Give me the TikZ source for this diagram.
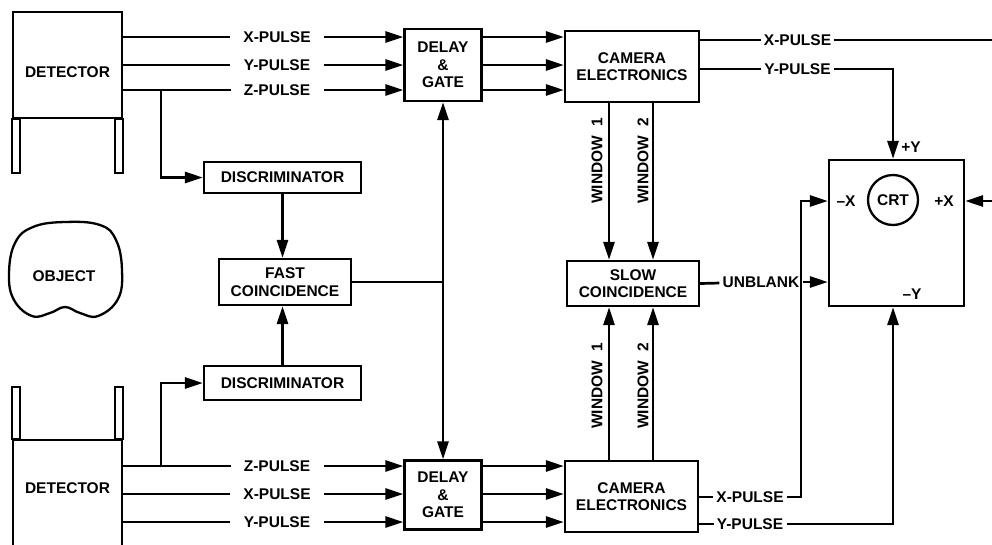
\documentclass[tikz,border=0pt]{standalone}
\usepackage{fontspec}
\setmainfont{Liberation Sans}
\usetikzlibrary{arrows.meta,positioning}

\begin{document}
\begin{tikzpicture}[
  x=1pt, y=-1pt,
  line width=2.7pt,
  every node/.style={font=\fontsize{15.5}{17.5}\selectfont\bfseries},
  block/.style={draw, rectangle, align=center, inner sep=0pt, line width=2.3pt},
  leg/.style={line width=1.8pt},
  pulse/.style={inner xsep=12pt, inner ysep=0pt},
  tag/.style={inner xsep=2pt, inner ysep=0pt},
  arrow/.style={-{Triangle[length=18pt,width=11pt]}}
]
\useasboundingbox (0,0) rectangle (992,544);
\clip (0,0) rectangle (992,544);

% detectors and object
\node[block, minimum width=109pt, minimum height=106pt, text height=25pt] (det1) at (67.5,65) {DETECTOR};
\node[block, minimum width=109pt, minimum height=120pt, text depth=24pt] (det2) at (67.5,500) {DETECTOR};
\draw[leg] (det1.south west) rectangle ++(8,54);
\draw[leg] (det1.south east) rectangle ++(-8,54);
\draw[leg] (det2.north west) rectangle ++(8,-52);
\draw[leg] (det2.north east) rectangle ++(-8,-52);

\node (obj) at (64,276) {OBJECT};
\draw[line width=2.3pt] plot[smooth cycle, tension=0.7] coordinates {(65,222) (100,225) (116,240) (122,270) (118,299) (98,316) (80,313) (65,307) (50,313) (32,316) (14,300) (9,274) (15,243) (33,227)};

% processing blocks
\node[block, minimum width=157pt, minimum height=31pt] (disc1) at (282.5,177.5) {DISCRIMINATOR};
\node[block, minimum width=157pt, minimum height=34pt] (disc2) at (282.5,383) {DISCRIMINATOR};
\node[block, minimum width=132pt, minimum height=46pt] (fast) at (285,282) {FAST\\COINCIDENCE};

\node[block, minimum width=77pt, minimum height=72pt] (dg1) at (443,65) {DELAY\\\&\\GATE};
\node[block, minimum width=77pt, minimum height=69pt] (dg2) at (443,495) {DELAY\\\&\\GATE};
\node[block, minimum width=134pt, minimum height=71pt] (cam1) at (632,66.5) {CAMERA\\ELECTRONICS};
\node[block, minimum width=133pt, minimum height=71pt] (cam2) at (631.5,496.5) {CAMERA\\ELECTRONICS};
\node[block, minimum width=132pt, minimum height=45pt] (slow) at (633,283.5) {SLOW\\COINCIDENCE};

% display
\node[block, minimum width=135pt, minimum height=146pt] (crtbox) at (896.5,233) {};
\node[draw, circle, minimum size=50pt, inner sep=0pt, line width=2.3pt] (crt) at (893,200) {CRT};
\node (mx) at (846,201) {\textendash X};
\node (px) at (944,201) {+X};
\node (my) at (912,294) {\textendash Y};
\node (py) at (911,147) {+Y};

% pulse labels
\node[pulse] (xa) at (277,37) {X-PULSE};
\node[pulse] (ya) at (277,65) {Y-PULSE};
\node[pulse] (za) at (277,90) {Z-PULSE};
\node[pulse] (zb) at (277,466) {Z-PULSE};
\node[pulse] (xb) at (277,494) {X-PULSE};
\node[pulse] (yb) at (277,522) {Y-PULSE};
\node[tag] (xc) at (797.5,40) {X-PULSE};
\node[tag] (yc) at (797.5,69) {Y-PULSE};
\node[tag] (xd) at (750,497) {X-PULSE};
\node[tag] (yd) at (750,524) {Y-PULSE};
\node[tag] (unb) at (761,282) {UNBLANK};

\node[rotate=90] (w1a) at (597,161) {WINDOW\hspace{9pt}1};
\node[rotate=90] (w2a) at (643,161) {WINDOW\hspace{9pt}2};
\node[rotate=90] (w1b) at (597,386) {WINDOW\hspace{9pt}1};
\node[rotate=90] (w2b) at (643,386) {WINDOW\hspace{9pt}2};

% detector outputs
\foreach \p in {xa,ya,za} {
  \draw (det1.east |- \p) -- (\p);
  \draw[arrow] (\p) -- (dg1.west |- \p);
  \draw[arrow] (dg1.east |- \p) -- (cam1.west |- \p);
}
\foreach \p in {zb,xb,yb} {
  \draw (det2.east |- \p) -- (\p);
  \draw[arrow] (\p) -- (dg2.west |- \p);
  \draw[arrow] (dg2.east |- \p) -- (cam2.west |- \p);
}
\coordinate (tapa) at (161,90);
\coordinate (tapb) at (161,466);
\draw[arrow] (tapa) |- (disc1.west);
\draw[arrow] (tapb) |- (disc2.west);

% coincidence
\draw[arrow] (disc1.south) -- (disc1.south |- fast.north);
\draw[arrow] (disc2.north) -- (disc2.north |- fast.south);
\coordinate (fork) at (fast.east -| dg1.south);
\draw (fast.east) -- (fork);
\draw[arrow] (fork) -- (dg1.south);
\draw[arrow] (fork) -- (dg2.north);

% windows
\draw[arrow] ([xshift=-23pt]cam1.south) -- ([xshift=-23pt]cam1.south |- slow.north);
\draw[arrow] ([xshift=21pt]cam1.south) -- ([xshift=21pt]cam1.south |- slow.north);
\draw[arrow] ([xshift=-22.5pt]cam2.north) -- ([xshift=-22.5pt]cam2.north |- slow.south);
\draw[arrow] ([xshift=21.5pt]cam2.north) -- ([xshift=21.5pt]cam2.north |- slow.south);

% to the display
\coordinate (edge) at (1000,40);
\draw (cam1.east |- xc) -- (xc);
\draw[arrow] (xc) -- (edge) |- (crtbox.east |- mx);
\draw (cam1.east |- yc) -- (yc);
\draw[arrow] (yc) -| (crt |- crtbox.north);
\draw (cam2.east |- xd) -- (xd);
\draw[arrow] (xd) -| ([xshift=-27pt]crtbox.west |- mx) -- (crtbox.west |- mx);
\draw (cam2.east |- yd) -- (yd);
\draw[arrow] (yd) -| (crt |- crtbox.south);
\draw (slow.east) -- (unb);
\draw[arrow] (unb) -- (crtbox.west |- unb);

\end{tikzpicture}
\end{document}
